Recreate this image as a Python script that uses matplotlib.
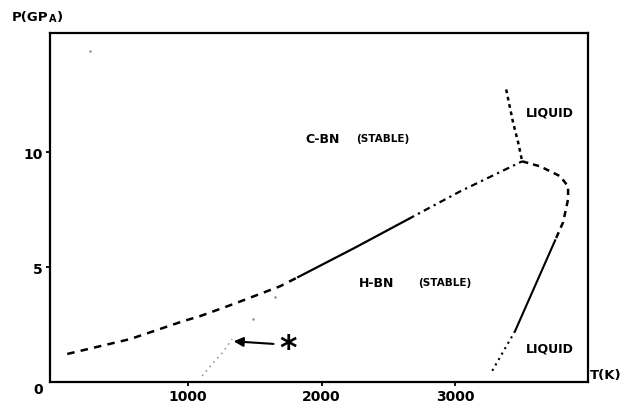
import numpy as np
import matplotlib
matplotlib.use('Agg')
from matplotlib import pyplot as plt

# c-BN / h-BN equilibrium line, split by line style
eq_dash_T = [94, 566, 963, 1090, 1337, 1689, 1824]
eq_dash_P = [1.22, 1.87, 2.65, 2.87, 3.39, 4.17, 4.57]
eq_solid_T = [1824, 2250, 2648]
eq_solid_P = [4.57, 5.85, 7.09]
eq_dot_T = [2648, 3037, 3502]
eq_dot_P = [7.09, 8.30, 9.61]

# c-BN melting line above the triple point
cmelt_T = [3382, 3434, 3472, 3502]
cmelt_P = [12.74, 11.30, 10.43, 9.61]

# h-BN melting line below the triple point
hmelt_dash_T = [3502, 3637, 3787, 3846, 3846, 3809, 3749]
hmelt_dash_P = [9.61, 9.39, 8.96, 8.52, 7.96, 6.96, 6.17]
hmelt_solid_T = [3749, 3449]
hmelt_solid_P = [6.17, 2.22]
hmelt_dot_T = [3449, 3277]
hmelt_dot_P = [2.22, 0.48]

# experimental point line marked with the star
star_T = [1104, 1190, 1260, 1330]
star_P = [0.26, 0.85, 1.30, 1.87]

stray_T = [266, 1487, 1652]
stray_P = [14.4, 2.74, 3.7]

xticks = [1000, 2000, 3000]
yticks = [5, 10]

plt.rcParams['font.family'] = ['DejaVu Sans']

fig = plt.figure(figsize=(6.38, 4.06), dpi=100)
ax = fig.add_axes([0.0784, 0.0567, 0.8432, 0.8596])
ax.set_xlim(-35, 3995)
ax.set_ylim(0, 15.2)

k = 'black'
ax.plot(eq_dash_T, eq_dash_P, color=k, lw=1.8, ls=(0, (3, 2.5)))
ax.plot(eq_solid_T, eq_solid_P, color=k, lw=1.6)
ax.plot(eq_dot_T, eq_dot_P, color=k, lw=1.6, ls=(0, (3, 2, 1, 2)))
ax.plot(cmelt_T, cmelt_P, color=k, lw=1.8, ls=(0, (1.5, 1.5)))
ax.plot(hmelt_dash_T, hmelt_dash_P, color=k, lw=1.8, ls=(0, (2.5, 2)))
ax.plot(hmelt_solid_T, hmelt_solid_P, color=k, lw=1.5)
ax.plot(hmelt_dot_T, hmelt_dot_P, color=k, lw=1.5, ls=(0, (1, 2)))
ax.plot(star_T, star_P, color='#999999', lw=1.2, ls=(0, (1, 2.5)))
ax.scatter(stray_T, stray_P, s=3, color='#888888', lw=0)

ax.annotate('', xy=(1320, 1.78), xytext=(1660, 1.65),
            arrowprops=dict(arrowstyle='-|>', color=k, lw=1.5,
                            mutation_scale=14))
ax.text(1745, 1.45, '*', fontsize=24, fontweight='bold', ha='center',
        va='center')

for s in ax.spines.values():
    s.set_linewidth(1.6)
ax.set_xticks(xticks)
ax.set_yticks(yticks)
ax.set_xticklabels([str(t) for t in xticks])
ax.set_yticklabels([str(t) for t in yticks])
ax.tick_params(direction='out', length=3, width=1.3, labelsize=10, pad=2)
for lab in ax.get_xticklabels() + ax.get_yticklabels():
    lab.set_fontweight('bold')

fig.text(38 / 638, 1 - 390 / 406, '0', fontsize=10, fontweight='bold',
         ha='center', va='center')
fig.text(12 / 638, 1 - 18 / 406, 'P(GP', fontsize=9.5, fontweight='bold',
         ha='left', va='center')
fig.text(49 / 638, 1 - 19 / 406, 'A', fontsize=7, fontweight='bold',
         ha='left', va='center')
fig.text(57 / 638, 1 - 18 / 406, ')', fontsize=9.5, fontweight='bold',
         ha='left', va='center')
fig.text(606 / 638, 1 - 376 / 406, 'T(K)', fontsize=9.5, fontweight='bold',
         ha='center', va='center')

ax.text(1876, 10.62, 'C-BN', fontsize=9, fontweight='bold', ha='left',
        va='center')
ax.text(2258, 10.62, '(STABLE)', fontsize=7.5, fontweight='bold', ha='left',
        va='center')
ax.text(2280, 4.35, 'H-BN', fontsize=9, fontweight='bold', ha='left',
        va='center')
ax.text(2720, 4.35, '(STABLE)', fontsize=7.5, fontweight='bold', ha='left',
        va='center')
ax.text(3530, 11.75, 'LIQUID', fontsize=9, fontweight='bold', ha='left',
        va='center')
ax.text(3530, 1.5, 'LIQUID', fontsize=9, fontweight='bold', ha='left',
        va='center')

fig.savefig('out.png', dpi=100)
